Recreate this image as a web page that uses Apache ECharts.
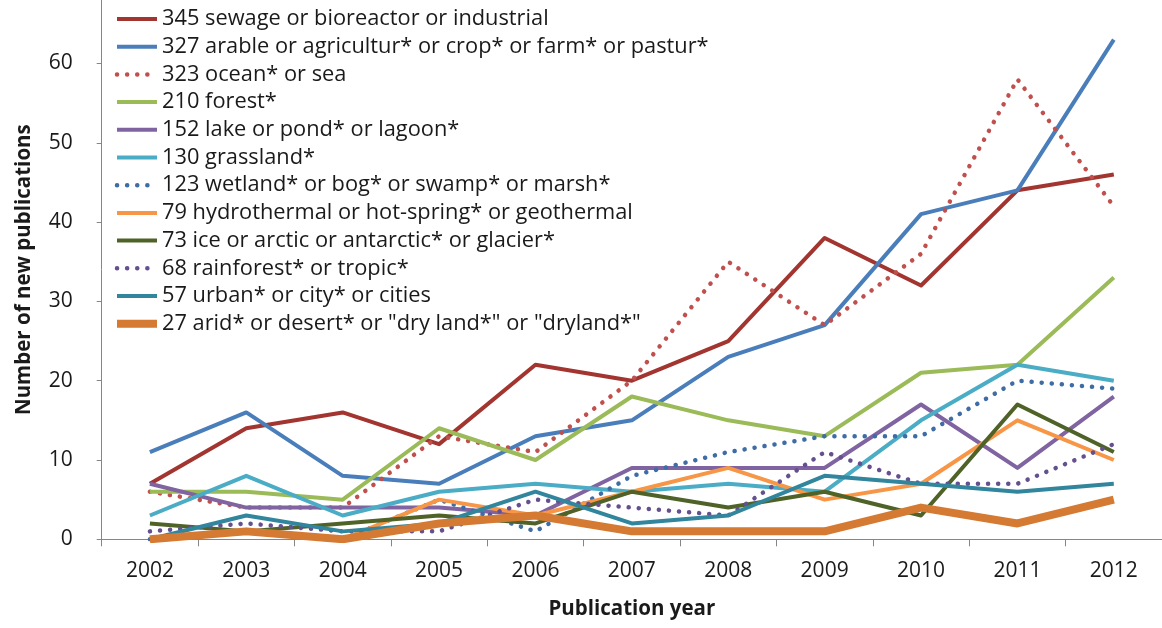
<!DOCTYPE html>
<html><head><meta charset="utf-8">
<script src="https://cdn.jsdelivr.net/npm/echarts@6/dist/echarts.min.js"></script>
<style>html,body{margin:0;padding:0;background:#fff}#c{width:1162px;height:628px}</style>
</head><body><div id="c"></div>
<script>
// ---- data ----
const years = ['2002','2003','2004','2005','2006','2007','2008','2009','2010','2011','2012'];
const yTicks = [0, 10, 20, 30, 40, 50, 60];
const sewage       = [7, 14, 16, 12, 22, 20, 25, 38, 32, 44, 46];
const arable       = [11, 16, 8, 7, 13, 15, 23, 27, 41, 44, 63];
const ocean        = [6, 4, 4, 13, 11, 20, 35, 27, 36, 58, 42];
const forest       = [6, 6, 5, 14, 10, 18, 15, 13, 21, 22, 33];
const lake         = [7, 4, 4, 4, 3, 9, 9, 9, 17, 9, 18];
const grassland    = [3, 8, 3, 6, 7, 6, 7, 6, 15, 22, 20];
const wetland      = [0, 1, 0, 5, 1, 8, 11, 13, 13, 20, 19];
const hydrothermal = [0, 1, 0, 5, 3, 6, 9, 5, 7, 15, 10];
const ice          = [2, 1, 2, 3, 2, 6, 4, 6, 3, 17, 11];
const rainforest   = [1, 2, 1, 1, 5, 4, 3, 11, 7, 7, 12];
const urban        = [0, 3, 1, 2, 6, 2, 3, 8, 7, 6, 7];
const arid         = [0, 1, 0, 2, 3, 1, 1, 1, 4, 2, 5];
const seriesNames = [
  '345 sewage or bioreactor or industrial',
  '327 arable or agricultur* or crop* or farm* or pastur*',
  '323 ocean* or sea',
  '210 forest*',
  '152 lake or pond* or lagoon*',
  '130 grassland*',
  '123 wetland* or bog* or swamp* or marsh*',
  '79 hydrothermal or hot-spring* or geothermal',
  '73 ice or arctic or antarctic* or glacier*',
  '68 rainforest* or tropic*',
  '57 urban* or city* or cities',
  '27 arid* or desert* or "dry land*" or "dryland*"'
];
const seriesData = [sewage, arable, ocean, forest, lake, grassland, wetland, hydrothermal, ice, rainforest, urban, arid];

// ---- styles ----
const colors = ['#A33530','#4A7EBB','#C0504D','#9BBB59','#8064A2','#4BACC6','#3E6CA5','#F79646','#4F6228','#65508F','#31859C','#D57A32'];
const dotted = [false,false,true,false,false,false,true,false,false,true,false,false];
const widths = [4,4,4.5,4,4,4,4.5,4,4,4.5,4,8];
const FONT = 'Open Sans';
const TXT = '#1a1a1a';

function lineStyleFor(i) {
  return dotted[i]
    ? {color: colors[i], width: widths[i], type: [0.1, 10], cap: 'round', join: 'round'}
    : {color: colors[i], width: widths[i], type: 'solid', cap: 'butt', join: 'round'};
}

const chart = echarts.init(document.getElementById('c'), null, {renderer: 'canvas'});
chart.setOption({
  animation: false,
  backgroundColor: '#fff',
  grid: {left: 101.7, top: 0, width: 1064.8, height: 539.3},
  legend: {
    orient: 'vertical', left: 113, top: 8, padding: 0,
    itemWidth: 40, itemHeight: 14, itemGap: 5.7,
    textStyle: {fontFamily: FONT, fontSize: 21.8, color: TXT, lineHeight: 22},
    data: seriesNames.map((n, i) => ({
      name: n, lineStyle: lineStyleFor(i),
      itemStyle: {opacity: 0, color: 'rgba(0,0,0,0)', borderWidth: 0}
    })),
    selectedMode: false
  },
  xAxis: {
    type: 'category', data: years, boundaryGap: true,
    axisLine: {show: true, lineStyle: {color: '#868686', width: 1}},
    axisTick: {show: true, length: 7, inside: false, lineStyle: {color: '#868686'}},
    axisLabel: {fontFamily: FONT, fontSize: 21, color: TXT, margin: 21, interval: 0},
    name: 'Publication year', nameLocation: 'middle', nameGap: 59,
    nameTextStyle: {fontFamily: FONT, fontSize: 20.5, fontWeight: 'bold', color: TXT}
  },
  yAxis: {
    type: 'value', min: 0, max: 68, interval: 10,
    splitLine: {show: false},
    axisLine: {show: true, lineStyle: {color: '#868686', width: 1}},
    axisTick: {show: true, length: 5, inside: false, customValues: yTicks, lineStyle: {color: '#868686'}},
    axisLabel: {fontFamily: FONT, fontSize: 21, color: TXT, margin: 29, customValues: yTicks},
    name: 'Number of new publications', nameLocation: 'middle', nameGap: 67,
    nameTextStyle: {fontFamily: FONT, fontSize: 20.5, fontWeight: 'bold', color: TXT}
  },
  series: seriesNames.map((n, i) => ({
    name: n, type: 'line', data: seriesData[i],
    symbol: 'none', showSymbol: false,
    lineStyle: lineStyleFor(i),
    itemStyle: {color: colors[i]},
    emphasis: {disabled: true}
  }))
});
</script>
</body></html>
